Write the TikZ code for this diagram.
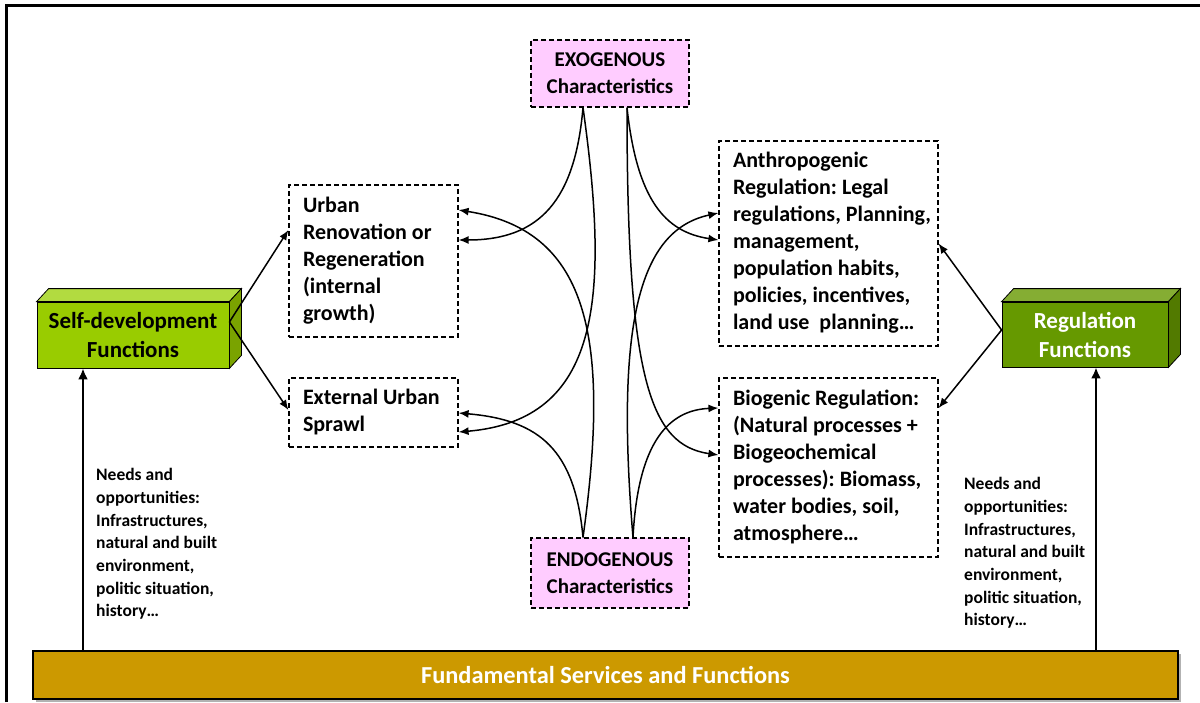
\documentclass[tikz,border=0pt]{standalone}
\usepackage{fontspec}
\setmainfont{Carlito}
\usetikzlibrary{arrows.meta,calc}
\definecolor{pinkbox}{RGB}{255,204,255}
\definecolor{sdfront}{RGB}{153,204,0}
\definecolor{sdtop}{RGB}{178,219,64}
\definecolor{sdside}{RGB}{122,163,0}
\definecolor{rgfront}{RGB}{102,153,0}
\definecolor{rgtop}{RGB}{133,173,51}
\definecolor{rgside}{RGB}{82,122,0}
\definecolor{barfill}{RGB}{204,153,0}
\newcommand\boxlines[2]{\makebox[#1][l]{\raisebox{-3pt}{\begin{tabular}{@{}l@{}}#2\end{tabular}}}}
\frenchspacing
\begin{document}
\begin{tikzpicture}[x=1pt,y=-1pt,
  dbox/.style={draw,dash pattern=on 5pt off 3pt,line width=1.2pt,inner ysep=0pt,inner xsep=14pt,font=\bfseries\fontsize{22}{27}\selectfont},
  pbox/.style={draw,fill=pinkbox,dash pattern=on 5pt off 3pt,line width=1.2pt,inner sep=0pt,align=center,font=\bfseries\fontsize{21}{27}\selectfont},
  front/.style={draw,line width=0.8pt,inner sep=0pt,align=center,font=\bfseries\fontsize{23}{29}\selectfont},
  face/.style={draw,line width=0.8pt},
  conn/.style={line width=1.5pt,-{Latex[length=10pt,width=8pt]}},
  upar/.style={line width=2.5pt,-{Latex[length=11pt,width=10pt]}},
  note/.style={inner sep=0pt,align=left,font=\bfseries\fontsize{17.5}{22.7}\selectfont}
]
\useasboundingbox (0,0) rectangle (1200,702);
% frame
\draw[line width=3pt] (6,702) -- (6,5) -- (1200,5);

% pink boxes
\node[pbox,minimum width=158pt,minimum height=67pt] (exo) at (610,73.5) {EXOGENOUS\\Characteristics};
\node[pbox,minimum width=158pt,minimum height=70pt] (endo) at (610,573) {ENDOGENOUS\\Characteristics};

% dashed boxes
\node[dbox,minimum height=152pt] (urban) at (373.5,261) {\boxlines{141pt}{Urban\\Renovation or\\Regeneration\\(internal\\growth)}};
\node[dbox,minimum height=69pt] (sprawl) at (373.5,412.5) {\boxlines{141pt}{External Urban\\Sprawl}};
\node[dbox,minimum height=205pt] (anthro) at (828.5,243.5) {\boxlines{191pt}{Anthropogenic\\Regulation: Legal\\regulations, Planning,\\management,\\population habits,\\policies, incentives,\\land use\ \ planning\ldots}};
\node[dbox,minimum height=179pt] (bio) at (828.5,467.5) {\boxlines{191pt}{Biogenic Regulation:\\(Natural processes +\\Biogeochemical\\processes): Biomass,\\water bodies, soil,\\atmosphere\ldots}};

% 3D boxes
\node[front,fill=sdfront,minimum width=192pt,minimum height=66pt] (sd) at (133,335) {Self-development\\Functions};
\draw[face,fill=sdtop] (sd.north west) -- ++(12,-13) -- ($(sd.north east)+(12,-13)$) -- (sd.north east) -- cycle;
\draw[face,fill=sdside] (sd.north east) -- ++(12,-13) -- ($(sd.south east)+(12,-13)$) -- (sd.south east) -- cycle;

\node[front,fill=rgfront,text=white,minimum width=166pt,minimum height=65pt] (rg) at (1085,334.5) {Regulation\\Functions};
\draw[face,fill=rgtop] (rg.north west) -- ++(12,-13) -- ($(rg.north east)+(12,-13)$) -- (rg.north east) -- cycle;
\draw[face,fill=rgside] (rg.north east) -- ++(12,-13) -- ($(rg.south east)+(12,-13)$) -- (rg.south east) -- cycle;

% bottom bar
\fill[gray!60] (36,654) rectangle (1181,702);
\node[draw,line width=1.5pt,fill=barfill,text=white,minimum width=1145pt,minimum height=48pt,inner sep=0pt,font=\bfseries\fontsize{24.4}{28}\selectfont] (bar) at (605.5,675) {Fundamental Services and Functions};

% notes
\node[note,anchor=west] (noteL) at (96,544) {Needs and\\opportunities:\\Infrastructures,\\natural and built\\environment,\\politic situation,\\history\ldots};
\node[note,anchor=west] (noteR) at (964,553) {Needs and\\opportunities:\\Infrastructures,\\natural and built\\environment,\\politic situation,\\history\ldots};

% vertical arrows
\coordinate (bL) at (83,651);
\coordinate (bR) at (1096,651);
\draw[upar] (bL) -- (bL |- sd.south);
\draw[upar] (bR) -- (bR |- rg.south);

% function arrows
\coordinate (sdo) at ([yshift=13pt]sd.east);
\coordinate (rgo) at ([yshift=4.5pt]rg.west);
\draw[conn] (sdo) -- ([yshift=31pt]urban.west);
\draw[conn] (sdo) -- ([yshift=2.5pt]sprawl.west);
\draw[conn] (rgo) -- (anthro.east);
\draw[conn] (rgo) -- ([yshift=59.5pt]bio.east);

% characteristic curves
\coordinate (exoL) at ([xshift=-27pt]exo.south);
\coordinate (exoR) at ([xshift=17pt]exo.south);
\coordinate (endoL) at ([xshift=-27pt]endo.north);
\coordinate (endoR) at ([xshift=23pt]endo.north);

\draw[conn] (exoL) .. controls (575,200) and (540,240) .. ([yshift=21pt]urban.east);
\draw[conn] (exoL) .. controls (610,300) and (600,420) .. ([yshift=-19.5pt]sprawl.east);
\draw[conn] (endoL) .. controls (575,450) and (540,420) .. ([yshift=-0.5pt]sprawl.east);
\draw[conn] (endoL) .. controls (612,330) and (585,230) .. ([yshift=51pt]urban.east);

\draw[conn] (exoR) .. controls (637,200) and (665,232) .. ([yshift=3.5pt]anthro.west);
\draw[conn] (exoR) .. controls (627,380) and (650,445) .. ([yshift=12.5pt]bio.west);
\draw[conn] (endoR) .. controls (638,440) and (670,410) .. ([yshift=59.5pt]bio.west);
\draw[conn] (endoR) .. controls (615,320) and (640,230) .. ([yshift=30.5pt]anthro.west);
\end{tikzpicture}
\end{document}
